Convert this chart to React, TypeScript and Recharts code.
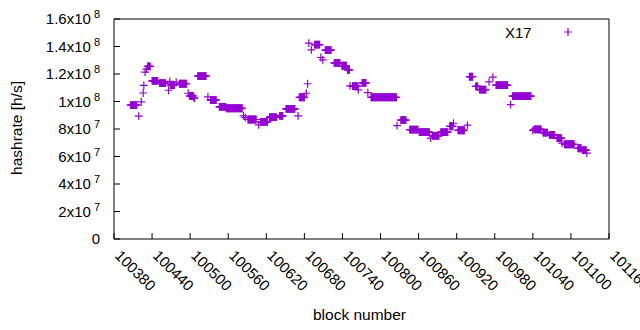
import { Legend, Scatter, ScatterChart, XAxis, YAxis } from "recharts";

// runs of consecutive blocks sharing the same hashrate
const runStart = [
  100406, 100419, 100423, 100426, 100427, 100429, 100431, 100433, 100440, 100452,
  100466, 100468, 100469, 100478, 100483, 100497, 100499, 100506, 100512, 100528,
  100532, 100546, 100557, 100584, 100587, 100591, 100608, 100611, 100625, 100641,
  100651, 100670, 100672, 100683, 100685, 100687, 100691, 100696, 100706, 100709,
  100713, 100727, 100739, 100748, 100752, 100756, 100765, 100771, 100780, 100785,
  100826, 100832, 100846, 100861, 100879, 100882, 100895, 100909, 100915, 100922,
  100937, 100940, 100950, 100956, 100971, 100977, 100982, 101005, 101008, 101040,
  101042, 101056, 101066, 101078, 101086, 101090, 101111, 101118, 101125,
];
const runEnd = [
  100416, 100419, 100423, 100426, 100427, 100429, 100431, 100437, 100449, 100461,
  100466, 100468, 100475, 100478, 100494, 100497, 100505, 100507, 100525, 100528,
  100541, 100556, 100582, 100584, 100587, 100604, 100608, 100622, 100636, 100646,
  100665, 100670, 100680, 100683, 100685, 100687, 100691, 100704, 100706, 100709,
  100722, 100736, 100746, 100751, 100752, 100764, 100765, 100777, 100780, 100825,
  100826, 100840, 100859, 100877, 100879, 100892, 100906, 100914, 100915, 100932,
  100937, 100945, 100953, 100966, 100971, 100977, 101000, 101005, 101037, 101040,
  101053, 101063, 101074, 101085, 101086, 101105, 101116, 101124, 101125,
];
const runRate = [
  97.3e6, 89.3e6, 99.7e6, 106.2e6, 111.8e6, 121.4e6, 123.5e6, 125.5e6, 115.0e6, 113.3e6,
  108.2e6, 114.6e6, 111.9e6, 114.1e6, 112.9e6, 106.0e6, 104.0e6, 102.5e6, 118.4e6, 103.4e6,
  101.0e6, 96.1e6, 95.1e6, 89.6e6, 88.3e6, 86.9e6, 83.0e6, 85.2e6, 88.6e6, 89.6e6,
  94.7e6, 89.6e6, 103.1e6, 106.0e6, 112.9e6, 142.5e6, 137.6e6, 141.3e6, 132.0e6, 130.3e6,
  137.4e6, 128.1e6, 126.0e6, 123.0e6, 111.4e6, 111.2e6, 108.5e6, 113.6e6, 106.5e6, 103.1e6,
  82.5e6, 86.4e6, 79.6e6, 77.7e6, 73.3e6, 75.0e6, 77.7e6, 82.0e6, 84.2e6, 79.1e6,
  82.8e6, 118.0e6, 111.0e6, 108.7e6, 114.3e6, 117.7e6, 111.9e6, 97.8e6, 103.9e6, 78.9e6,
  79.8e6, 77.4e6, 75.7e6, 73.3e6, 69.7e6, 68.9e6, 66.0e6, 64.6e6, 62.4e6,
];

const xTicks = [
  100380, 100440, 100500, 100560, 100620, 100680, 100740, 100800, 100860, 100920, 100980,
  101040, 101100, 101160,
];
const yTicks = [0, 2e7, 4e7, 6e7, 8e7, 1e8, 1.2e8, 1.4e8, 1.6e8];

const points = runStart.flatMap((start, i) =>
  Array.from({ length: runEnd[i] - start + 1 }, (_, k) => ({ block: start + k, rate: runRate[i] }))
);

const PURPLE = "#9400d3";
const FONT = "'Liberation Sans', Arial, sans-serif";

function PlusMark(props: any) {
  const { cx, cy } = props;
  const r = 3.9;
  return (
    <path
      d={`M${cx - r},${cy}H${cx + r}M${cx},${cy - r}V${cy + r}`}
      stroke={PURPLE}
      strokeWidth={1.2}
      fill="none"
    />
  );
}

function YTick({ x, y, payload }: any) {
  const v = payload.value as number;
  if (v === 0) {
    return (
      <text x={x} y={y} dy={5} textAnchor="end" fill="#000" fontSize={15} fontFamily={FONT}>
        0
      </text>
    );
  }
  const exp = Math.floor(Math.log10(v) + 1e-9);
  const mant = +(v / Math.pow(10, exp)).toFixed(1);
  return (
    <text x={x} y={y} dy={5} textAnchor="end" fill="#000" fontSize={15} fontFamily={FONT}>
      {`${mant}x10`}
      <tspan dx={3} dy={-6} fontSize={11}>
        {exp}
      </tspan>
    </text>
  );
}

// gnuplot-style "rotate by -45" labels, baseline starting under the tick
function XTick({ x, y, payload }: any) {
  return (
    <text
      x={x}
      y={y}
      transform={`rotate(45 ${x} ${y})`}
      textAnchor="start"
      fill="#000"
      fontSize={15}
      fontFamily={FONT}
    >
      {payload.value}
    </text>
  );
}

function KeyBox() {
  return (
    <svg width={100} height={20}>
      <text x={15} y={15.5} fill="#000" fontSize={15} fontFamily={FONT}>
        X17
      </text>
      <PlusMark cx={78} cy={10} />
    </svg>
  );
}

export default function App() {
  return (
    <div style={{ position: "absolute", left: 0, top: 0 }}>
      <ScatterChart
        width={640}
        height={330}
        margin={{ top: 18, right: 30, bottom: 1, left: 0 }}
        style={{ fontFamily: FONT, background: "#fff" }}
      >
        <XAxis
          xAxisId="b"
          dataKey="block"
          type="number"
          domain={[100380, 101160]}
          ticks={xTicks}
          interval={0}
          height={90}
          tickSize={-6}
          tickMargin={23.5}
          tick={XTick}
          stroke="#000"
          label={{ value: "block number", position: "insideBottom", offset: 9, fill: "#000", fontSize: 15.5, dx: -2 }}
        />
        <XAxis
          xAxisId="t"
          orientation="top"
          type="number"
          domain={[100380, 101160]}
          ticks={xTicks}
          interval={0}
          height={1}
          tickSize={-6}
          tick={false}
          stroke="#000"
        />
        <YAxis
          yAxisId="l"
          dataKey="rate"
          type="number"
          domain={[0, 1.6e8]}
          ticks={yTicks}
          interval={0}
          width={114}
          tickSize={-6}
          tickMargin={20}
          tick={YTick}
          stroke="#000"
          label={({ viewBox }: any) => (
            <text
              x={17}
              y={viewBox.y + viewBox.height / 2 - 1}
              dy="0.35em"
              transform={`rotate(-90 17 ${viewBox.y + viewBox.height / 2 - 1})`}
              textAnchor="middle"
              fill="#000"
              fontSize={15.5}
              fontFamily={FONT}
            >
              hashrate [h/s]
            </text>
          )}
        />
        <YAxis
          yAxisId="r"
          orientation="right"
          type="number"
          domain={[0, 1.6e8]}
          ticks={yTicks}
          interval={0}
          width={1}
          tickSize={-6}
          tick={false}
          stroke="#000"
        />
        <Legend
          verticalAlign="middle"
          align="center"
          layout="horizontal"
          wrapperStyle={{ left: 490, top: 22, width: 100, height: 20 }}
          content={() => <KeyBox />}
        />
        <Scatter
          name="X17"
          data={points}
          xAxisId="b"
          yAxisId="l"
          shape={PlusMark}
          isAnimationActive={false}
        />
      </ScatterChart>
    </div>
  );
}
